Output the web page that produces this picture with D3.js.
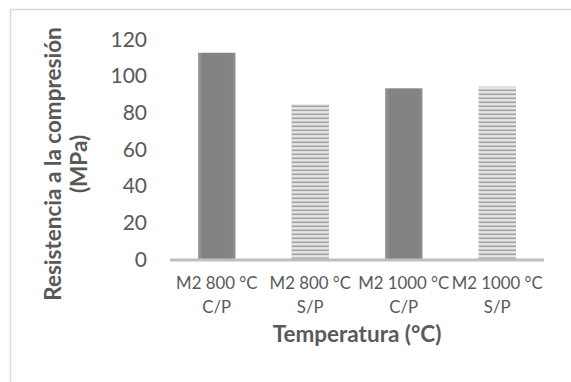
<!DOCTYPE html>
<html>
<head>
<meta charset="utf-8">
<script src="https://cdn.jsdelivr.net/npm/d3@7"></script>
<style>
  body { margin: 0; background: #fff; }
  text { font-family: Lato, "Open Sans", sans-serif; fill: #595959; }
</style>
</head>
<body>
<div id="chart"></div>
<script>
// data
var categories = [["M2 800 °C", "C/P"], ["M2 800 °C", "S/P"], ["M2 1000 °C", "C/P"], ["M2 1000 °C", "S/P"]];
var values = [112.5, 84.4, 93.1, 94.0];
var striped = [false, true, false, true];
var yTicks = [0, 20, 40, 60, 80, 100, 120];
var yTitle = ["Resistencia a la compresión", "(MPa)"];
var xTitle = "Temperatura (°C)";

var width = 571, height = 382;

var svg = d3.select("#chart")
    .append("svg")
    .attr("width", width)
    .attr("height", height);

var defs = svg.append("defs");

// horizontal stripes
var pat = defs.append("pattern")
    .attr("id", "stripes")
    .attr("patternUnits", "userSpaceOnUse")
    .attr("width", 8)
    .attr("height", 4);
pat.append("rect").attr("width", 8).attr("height", 4).attr("fill", "#e6e6e6");
pat.append("rect").attr("y", 1.5).attr("width", 8).attr("height", 1.6).attr("fill", "#a3a3a3");

var grad = defs.append("linearGradient")
    .attr("id", "solid")
    .attr("x1", "0%").attr("x2", "100%");
grad.append("stop").attr("offset", "0%").attr("stop-color", "#9c9c9c");
grad.append("stop").attr("offset", "12%").attr("stop-color", "#838383");
grad.append("stop").attr("offset", "88%").attr("stop-color", "#838383");
grad.append("stop").attr("offset", "100%").attr("stop-color", "#8e8e8e");

// chart area frame (only top and left visible)
svg.append("rect")
    .attr("x", 10.5)
    .attr("y", 9.5)
    .attr("width", 620)
    .attr("height", 420)
    .attr("fill", "none")
    .attr("stroke", "#d9d9d9")
    .attr("stroke-width", 1.5);

var x = d3.scaleBand()
    .domain(d3.range(categories.length))
    .range([170, 544])
    .paddingInner(0.6)
    .paddingOuter(0.3);

var y = d3.scaleLinear()
    .domain([0, 120])
    .range([259, 39]);

// y tick labels
svg.append("g")
    .selectAll("text")
    .data(yTicks)
    .enter()
    .append("text")
    .attr("x", 147)
    .attr("y", function (d) { return y(d); })
    .attr("dy", "0.36em")
    .attr("text-anchor", "end")
    .style("font-size", "21px")
    .text(function (d) { return d; });

// bars
svg.append("g")
    .selectAll("rect")
    .data(values)
    .enter()
    .append("rect")
    .attr("x", function (d, i) { return x(i); })
    .attr("y", function (d) { return y(d); })
    .attr("width", x.bandwidth())
    .attr("height", function (d) { return y(0) - y(d); })
    .attr("fill", function (d, i) { return striped[i] ? "url(#stripes)" : "url(#solid)"; });

// axis line
svg.append("line")
    .attr("x1", x.range()[0])
    .attr("x2", x.range()[1])
    .attr("y1", y(0) + 1)
    .attr("y2", y(0) + 1)
    .attr("stroke", "#bfbfbf")
    .attr("stroke-width", 3);

// category labels
var cat = svg.append("g")
    .selectAll("text")
    .data(categories)
    .enter()
    .append("text")
    .attr("text-anchor", "middle")
    .style("font-size", "16.8px");

cat.selectAll("tspan")
    .data(function (d, i) { return d.map(function (s) { return { s: s, i: i }; }); })
    .enter()
    .append("tspan")
    .attr("x", function (d) { return x(d.i) + x.bandwidth() / 2; })
    .attr("y", function (d, j) { return 289 + j * 24; })
    .text(function (d) { return d.s; });

// x title
svg.append("text")
    .attr("x", 357)
    .attr("y", 342)
    .attr("text-anchor", "middle")
    .style("font-size", "22.5px")
    .style("font-weight", "bold")
    .text(xTitle);

// y title
var yt = svg.append("text")
    .attr("transform", "translate(0,164) rotate(-90)")
    .attr("text-anchor", "middle")
    .style("font-size", "22.5px")
    .style("font-weight", "bold");

yt.selectAll("tspan")
    .data(yTitle)
    .enter()
    .append("tspan")
    .attr("x", 0)
    .attr("y", function (d, i) { return 61 + i * 26; })
    .text(function (d) { return d; });
</script>
</body>
</html>
